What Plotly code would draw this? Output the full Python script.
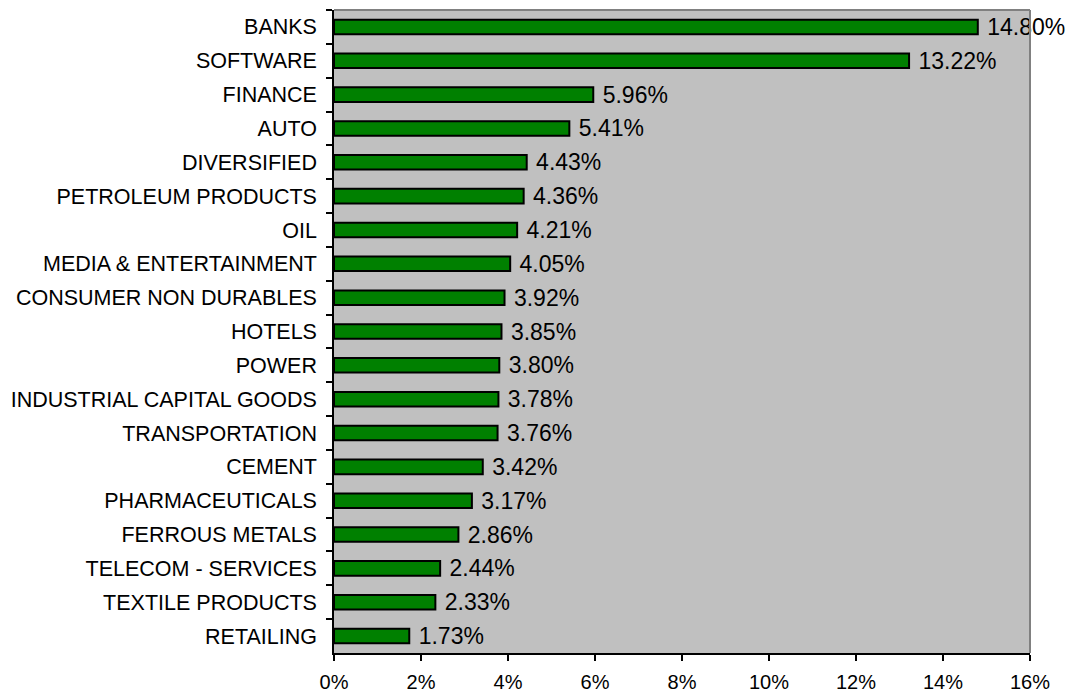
import plotly.graph_objects as go

sectors = ["BANKS", "SOFTWARE", "FINANCE", "AUTO", "DIVERSIFIED", "PETROLEUM PRODUCTS", "OIL",
           "MEDIA & ENTERTAINMENT", "CONSUMER NON DURABLES", "HOTELS", "POWER",
           "INDUSTRIAL CAPITAL GOODS", "TRANSPORTATION", "CEMENT", "PHARMACEUTICALS",
           "FERROUS METALS", "TELECOM - SERVICES", "TEXTILE PRODUCTS", "RETAILING"]
weights = [14.80, 13.22, 5.96, 5.41, 4.43, 4.36, 4.21, 4.05, 3.92, 3.85, 3.80,
           3.78, 3.76, 3.42, 3.17, 2.86, 2.44, 2.33, 1.73]
x_ticks = [0, 2, 4, 6, 8, 10, 12, 14, 16]

font_family = "Liberation Sans, Arial, sans-serif"

fig = go.Figure(go.Bar(
    x=weights, y=sectors, orientation="h",
    marker=dict(color="#008000", line=dict(color="#000000", width=2)),
    texttemplate=" %{x:.2f}%", textposition="outside", cliponaxis=False,
    constraintext="none",
    textfont=dict(size=23, color="#000000", family=font_family),
))

fig.update_layout(
    width=1072, height=694,
    margin=dict(l=334, r=42, t=10, b=41, autoexpand=False),
    paper_bgcolor="#FFFFFF", plot_bgcolor="#C0C0C0",
    bargap=0.57, showlegend=False,
    font=dict(family=font_family, color="#000000", size=20),
    shapes=[
        dict(type="line", xref="paper", yref="paper", x0=0, x1=1, y0=1, y1=1,
             line=dict(color="#808080", width=2)),
        dict(type="line", xref="paper", yref="paper", x0=1, x1=1, y0=0, y1=1,
             line=dict(color="#808080", width=2)),
    ],
)
fig.update_xaxes(
    range=[0, 16], tickvals=x_ticks, ticktext=[f"{v}%" for v in x_ticks],
    showgrid=False, zeroline=False, showline=True, linecolor="#000000", linewidth=1.5,
    ticks="outside", ticklen=6, tickcolor="#000000", tickwidth=1.5,
    tickfont=dict(size=20), ticklabelstandoff=4, automargin=False,
)
fig.update_yaxes(
    autorange="reversed", showgrid=False, zeroline=False, showline=True,
    linecolor="#000000", linewidth=1.5, ticks="outside", ticklen=6, tickcolor="#000000",
    tickwidth=1.5, tickson="boundaries", tickfont=dict(size=21.5), ticklabelstandoff=11,
    automargin=False,
)

fig.write_html(
    "out.html",
    config={"displayModeBar": False},
    post_script="document.body.style.margin='0';document.body.style.overflow='hidden';",
)
